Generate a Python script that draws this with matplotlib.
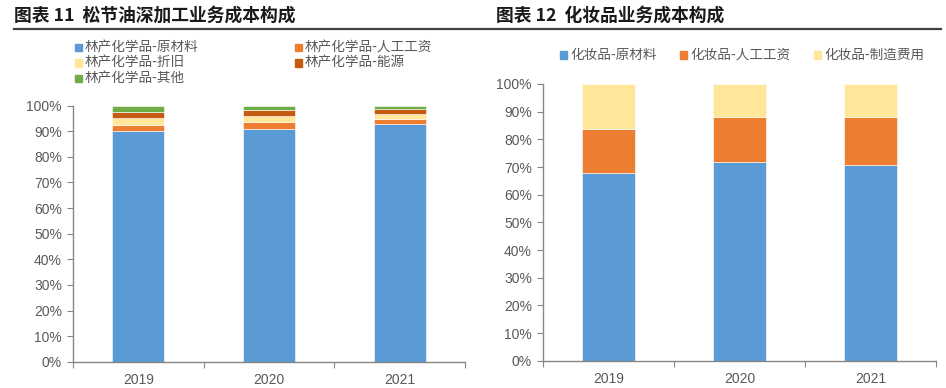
import matplotlib
matplotlib.use("Agg")
import matplotlib.pyplot as plt
import numpy as np
from matplotlib.patches import Rectangle
from matplotlib.lines import Line2D

plt.rcParams['font.family'] = ['Noto Sans CJK SC', 'DejaVu Sans']

years = ['2019', '2020', '2021']

# Chart 11: 松节油深加工业务成本构成 (%)
left_names = ['林产化学品-原材料', '林产化学品-人工工资', '林产化学品-折旧',
              '林产化学品-能源', '林产化学品-其他']
left_raw = [90.0, 90.8, 92.7]
left_labor = [2.5, 2.7, 2.1]
left_dep = [2.8, 2.4, 1.8]
left_energy = [2.3, 2.5, 2.2]
left_other = [2.4, 1.6, 1.2]
left_colors = ['#5B9BD5', '#ED7D31', '#FFE699', '#C55A11', '#70AD47']

# Chart 12: 化妆品业务成本构成 (%)
right_names = ['化妆品-原材料', '化妆品-人工工资', '化妆品-制造费用']
right_raw = [67.8, 71.8, 70.7]
right_labor = [15.9, 16.4, 17.3]
right_mfg = [16.3, 11.8, 12.0]
right_colors = ['#5B9BD5', '#ED7D31', '#FFE699']

yticks = [0, 10, 20, 30, 40, 50, 60, 70, 80, 90, 100]
ytick_labels = [f'{v}%' for v in yticks]

W, H = 946, 388
fig = plt.figure(figsize=(W / 100, H / 100), dpi=100)

axis_color = '#868686'
text_color = '#595959'
num_font = ['Liberation Sans', 'DejaVu Sans']


def style_axes(ax):
    ax.set_xlim(-0.5, 2.5)
    ax.set_ylim(0, 100)
    for s in ['top', 'right']:
        ax.spines[s].set_visible(False)
    for s in ['left', 'bottom']:
        ax.spines[s].set_color(axis_color)
        ax.spines[s].set_linewidth(1.0)
    ax.set_yticks(yticks)
    ax.set_yticklabels(ytick_labels, family=num_font, fontsize=10, color=text_color)
    ax.set_xticks([-0.5, 0.5, 1.5, 2.5])
    ax.set_xticklabels([])
    ax.set_xticks([0, 1, 2], minor=True)
    ax.set_xticklabels(years, minor=True, family=num_font, fontsize=10, color=text_color)
    ax.tick_params(axis='x', which='minor', length=0, pad=8)
    ax.tick_params(axis='x', which='major', length=4, color=axis_color, direction='out')
    ax.tick_params(axis='y', length=4, color=axis_color, direction='out', pad=4)


def stack(ax, series, colors):
    x = np.arange(len(years))
    bottom = np.zeros(len(years))
    for vals, c in zip(series, colors):
        vals = np.array(vals, dtype=float)
        ax.bar(x, vals, width=0.4, bottom=bottom, color=c, edgecolor='white', linewidth=0.4)
        bottom += vals


axL = fig.add_axes([73 / W, 1 - 361.7 / H, (465 - 73) / W, (361.7 - 105.7) / H])
stack(axL, [left_raw, left_labor, left_dep, left_energy, left_other], left_colors)
style_axes(axL)

axR = fig.add_axes([543 / W, 1 - 360.7 / H, (936 - 543) / W, (360.7 - 84) / H])
stack(axR, [right_raw, right_labor, right_mfg], right_colors)
style_axes(axR)

# Titles
fig.text(14 / W, 1 - 16 / H, '图表 11  松节油深加工业务成本构成', fontsize=12.8, fontweight='bold',
         color='#1a1a1a', va='center', ha='left')
fig.text(496 / W, 1 - 16 / H, '图表 12  化妆品业务成本构成', fontsize=12.8, fontweight='bold',
         color='#1a1a1a', va='center', ha='left')
fig.add_artist(Line2D([14 / W, 941 / W], [1 - 28.5 / H, 1 - 28.5 / H], color='#404040', linewidth=1.6))


def legend_item(x_sq, y, color, label):
    s = 7
    fig.add_artist(Rectangle((x_sq / W, 1 - (y + s / 2) / H), s / W, s / H, color=color, transform=fig.transFigure))
    fig.text((x_sq + 10) / W, 1 - y / H, label, fontsize=9.8, color=text_color, va='center', ha='left')


# Left legend
legend_item(75, 47.5, left_colors[0], left_names[0])
legend_item(295, 47.5, left_colors[1], left_names[1])
legend_item(75, 63, left_colors[2], left_names[2])
legend_item(295, 63, left_colors[3], left_names[3])
legend_item(75, 78.5, left_colors[4], left_names[4])

# Right legend
legend_item(560, 55, right_colors[0], right_names[0])
legend_item(680, 55, right_colors[1], right_names[1])
legend_item(814, 55, right_colors[2], right_names[2])

fig.savefig('out.png', dpi=100)
